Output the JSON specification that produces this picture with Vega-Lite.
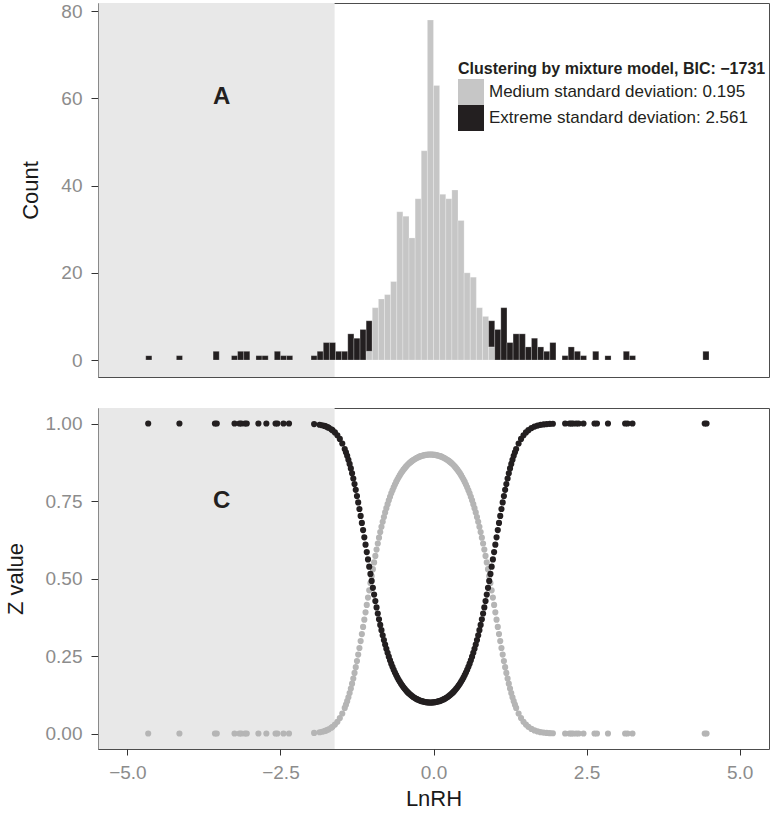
{
  "$schema": "https://vega.github.io/schema/vega-lite/v6.json",
  "padding": {"left": 3, "top": 1, "right": 6, "bottom": 5},
  "spacing": 29,
  "config": {
    "font": "Liberation Sans",
    "view": {"stroke": "#4d4d4d", "strokeWidth": 1},
    "axis": {"grid": false, "domain": false, "tickColor": "#333333", "tickSize": 7, "labelColor": "#8c8c8c", "labelFontSize": 19, "titleFontSize": 22, "titleFontWeight": "normal", "titleColor": "#1a1a1a", "labelPadding": 9}
  },
  "vconcat": [
    {
      "width": 671,
      "height": 374,
      "layer": [
        {
          "data": {"values": [{"x0": -5.47, "x1": -1.615}]},
          "mark": {"type": "rect", "color": "#e8e8e8"},
          "encoding": {
            "x": {"field": "x0", "type": "quantitative", "scale": {"domain": [-5.48, 5.48], "nice": false, "zero": false}, "axis": null},
            "x2": {"field": "x1"}
          }
        },
        {
          "data": {"values": [
            {"b":-4.7,"b2":-4.6,"lo":0,"hi":1,"g":"Extreme"},
            {"b":-4.2,"b2":-4.1,"lo":0,"hi":1,"g":"Extreme"},
            {"b":-3.6,"b2":-3.5,"lo":0,"hi":2,"g":"Extreme"},
            {"b":-3.3,"b2":-3.2,"lo":0,"hi":1,"g":"Extreme"},
            {"b":-3.2,"b2":-3.1,"lo":0,"hi":2,"g":"Extreme"},
            {"b":-3.1,"b2":-3.0,"lo":0,"hi":2,"g":"Extreme"},
            {"b":-2.9,"b2":-2.8,"lo":0,"hi":1,"g":"Extreme"},
            {"b":-2.8,"b2":-2.7,"lo":0,"hi":1,"g":"Extreme"},
            {"b":-2.6,"b2":-2.5,"lo":0,"hi":2,"g":"Extreme"},
            {"b":-2.5,"b2":-2.4,"lo":0,"hi":1,"g":"Extreme"},
            {"b":-2.4,"b2":-2.3,"lo":0,"hi":1,"g":"Extreme"},
            {"b":-2.0,"b2":-1.9,"lo":0,"hi":1,"g":"Extreme"},
            {"b":-1.9,"b2":-1.8,"lo":0,"hi":2,"g":"Extreme"},
            {"b":-1.8,"b2":-1.7,"lo":0,"hi":4,"g":"Extreme"},
            {"b":-1.7,"b2":-1.6,"lo":0,"hi":4,"g":"Extreme"},
            {"b":-1.6,"b2":-1.5,"lo":0,"hi":2,"g":"Extreme"},
            {"b":-1.5,"b2":-1.4,"lo":0,"hi":2,"g":"Extreme"},
            {"b":-1.4,"b2":-1.3,"lo":0,"hi":6,"g":"Extreme"},
            {"b":-1.3,"b2":-1.2,"lo":0,"hi":5,"g":"Extreme"},
            {"b":-1.2,"b2":-1.1,"lo":0,"hi":7,"g":"Extreme"},
            {"b":-1.1,"b2":-1.0,"lo":0,"hi":2,"g":"Medium"},
            {"b":-1.1,"b2":-1.0,"lo":2,"hi":9,"g":"Extreme"},
            {"b":-1.0,"b2":-0.9,"lo":0,"hi":12,"g":"Medium"},
            {"b":-0.9,"b2":-0.8,"lo":0,"hi":14,"g":"Medium"},
            {"b":-0.8,"b2":-0.7,"lo":0,"hi":15,"g":"Medium"},
            {"b":-0.7,"b2":-0.6,"lo":0,"hi":18,"g":"Medium"},
            {"b":-0.6,"b2":-0.5,"lo":0,"hi":34,"g":"Medium"},
            {"b":-0.5,"b2":-0.4,"lo":0,"hi":33,"g":"Medium"},
            {"b":-0.4,"b2":-0.3,"lo":0,"hi":28,"g":"Medium"},
            {"b":-0.3,"b2":-0.2,"lo":0,"hi":37,"g":"Medium"},
            {"b":-0.2,"b2":-0.1,"lo":0,"hi":48,"g":"Medium"},
            {"b":-0.1,"b2":0.0,"lo":0,"hi":78,"g":"Medium"},
            {"b":0.0,"b2":0.1,"lo":0,"hi":63,"g":"Medium"},
            {"b":0.1,"b2":0.2,"lo":0,"hi":38,"g":"Medium"},
            {"b":0.2,"b2":0.3,"lo":0,"hi":37,"g":"Medium"},
            {"b":0.3,"b2":0.4,"lo":0,"hi":39,"g":"Medium"},
            {"b":0.4,"b2":0.5,"lo":0,"hi":32,"g":"Medium"},
            {"b":0.5,"b2":0.6,"lo":0,"hi":20,"g":"Medium"},
            {"b":0.6,"b2":0.7,"lo":0,"hi":19,"g":"Medium"},
            {"b":0.7,"b2":0.8,"lo":0,"hi":12,"g":"Medium"},
            {"b":0.8,"b2":0.9,"lo":0,"hi":10,"g":"Medium"},
            {"b":0.9,"b2":1.0,"lo":0,"hi":3,"g":"Medium"},
            {"b":0.9,"b2":1.0,"lo":3,"hi":9,"g":"Extreme"},
            {"b":1.0,"b2":1.1,"lo":0,"hi":7,"g":"Extreme"},
            {"b":1.1,"b2":1.2,"lo":0,"hi":12,"g":"Extreme"},
            {"b":1.2,"b2":1.3,"lo":0,"hi":4,"g":"Extreme"},
            {"b":1.3,"b2":1.4,"lo":0,"hi":6,"g":"Extreme"},
            {"b":1.4,"b2":1.5,"lo":0,"hi":6,"g":"Extreme"},
            {"b":1.5,"b2":1.6,"lo":0,"hi":3,"g":"Extreme"},
            {"b":1.6,"b2":1.7,"lo":0,"hi":5,"g":"Extreme"},
            {"b":1.7,"b2":1.8,"lo":0,"hi":3,"g":"Extreme"},
            {"b":1.8,"b2":1.9,"lo":0,"hi":2,"g":"Extreme"},
            {"b":1.9,"b2":2.0,"lo":0,"hi":4,"g":"Extreme"},
            {"b":2.1,"b2":2.2,"lo":0,"hi":1,"g":"Extreme"},
            {"b":2.2,"b2":2.3,"lo":0,"hi":3,"g":"Extreme"},
            {"b":2.3,"b2":2.4,"lo":0,"hi":2,"g":"Extreme"},
            {"b":2.4,"b2":2.5,"lo":0,"hi":1,"g":"Extreme"},
            {"b":2.6,"b2":2.7,"lo":0,"hi":2,"g":"Extreme"},
            {"b":2.8,"b2":2.9,"lo":0,"hi":1,"g":"Extreme"},
            {"b":3.1,"b2":3.2,"lo":0,"hi":2,"g":"Extreme"},
            {"b":3.2,"b2":3.3,"lo":0,"hi":1,"g":"Extreme"},
            {"b":4.4,"b2":4.5,"lo":0,"hi":2,"g":"Extreme"}
          ]},
          "mark": {"type": "bar", "stroke": "#ffffff", "strokeWidth": 0.6, "strokeOpacity": 0.4},
          "encoding": {
            "x": {"field": "b", "type": "quantitative", "axis": null},
            "x2": {"field": "b2"},
            "y": {"field": "hi", "type": "quantitative", "scale": {"domain": [-3.9, 81.9], "nice": false, "zero": false}, "axis": {"values": [0, 20, 40, 60, 80], "title": "Count", "titlePadding": 18}},
            "y2": {"field": "lo"},
            "color": {
              "field": "g", "type": "nominal",
              "scale": {"domain": ["Medium", "Extreme"], "range": ["#c6c6c6", "#231f20"]},
              "legend": {
                "title": "Clustering by mixture model, BIC: −1731",
                "orient": "none", "legendX": 360, "legendY": 58, "padding": 0,
                "titleFontSize": 16, "titleFontWeight": "bold", "titleColor": "#231f20", "titlePadding": 2, "titleLimit": 600,
                "labelFontSize": 17, "labelColor": "#231f20", "labelOffset": 5, "labelLimit": 400,
                "symbolType": "square", "symbolSize": 676, "symbolStrokeWidth": 0, "rowPadding": 0,
                "labelExpr": "datum.label == 'Medium' ? 'Medium standard deviation: 0.195' : 'Extreme standard deviation: 2.561'"
              }
            }
          }
        },
        {
          "data": {"values": [{"x": -3.46, "y": 60.3, "t": "A"}]},
          "mark": {"type": "text", "fontSize": 24, "fontWeight": "bold", "color": "#231f20", "baseline": "middle", "align": "center"},
          "encoding": {
            "x": {"field": "x", "type": "quantitative", "axis": null},
            "y": {"field": "y", "type": "quantitative"},
            "text": {"field": "t"}
          }
        }
      ]
    },
    {
      "width": 671,
      "height": 341,
      "layer": [
        {
          "data": {"values": [{"x0": -5.47, "x1": -1.615}]},
          "mark": {"type": "rect", "color": "#e8e8e8"},
          "encoding": {
            "x": {"field": "x0", "type": "quantitative", "scale": {"domain": [-5.48, 5.48], "nice": false, "zero": false},
                  "axis": {"values": [-5, -2.5, 0, 2.5, 5], "format": ".1f", "title": "LnRH", "titlePadding": 6, "tickSize": 6, "labelPadding": 8}},
            "x2": {"field": "x1"}
          }
        },
        {
          "data": {"name": "pts"},
          "layer": [
            {
              "mark": {"type": "circle", "size": 38, "color": "#b5b5b5", "opacity": 1},
              "encoding": {
                "x": {"field": "x", "type": "quantitative"},
                "y": {"field": "m", "type": "quantitative", "scale": {"domain": [-0.05, 1.05], "nice": false, "zero": false},
                      "axis": {"values": [0, 0.25, 0.5, 0.75, 1], "format": ".2f", "title": "Z value", "titlePadding": 18}}
              }
            },
            {
              "mark": {"type": "circle", "size": 38, "color": "#231f20", "opacity": 1},
              "encoding": {
                "x": {"field": "x", "type": "quantitative"},
                "y": {"field": "e", "type": "quantitative"}
              }
            }
          ]
        },
        {
          "data": {"values": [{"x": -3.46, "y": 0.75, "t": "C"}]},
          "mark": {"type": "text", "fontSize": 24, "fontWeight": "bold", "color": "#231f20", "baseline": "middle", "align": "center"},
          "encoding": {
            "x": {"field": "x", "type": "quantitative"},
            "y": {"field": "y", "type": "quantitative"},
            "text": {"field": "t"}
          }
        }
      ]
    }
  ],
  "datasets": {
    "pts": [
      {"x":-4.66,"e":1,"m":0},{"x":-4.15,"e":1,"m":0},{"x":-3.57,"e":1,"m":0},{"x":-3.54,"e":1,"m":0},
      {"x":-3.25,"e":1,"m":0},{"x":-3.17,"e":1,"m":0},{"x":-3.14,"e":1,"m":0},{"x":-3.08,"e":1,"m":0},
      {"x":-3.05,"e":1,"m":0},{"x":-2.86,"e":1,"m":0},{"x":-2.73,"e":1,"m":0},{"x":-2.58,"e":1,"m":0},
      {"x":-2.55,"e":1,"m":0},{"x":-2.45,"e":1,"m":0},{"x":-2.36,"e":1,"m":0},
      {"x":-1.95,"e":0.9981,"m":0.0019},{"x":-1.86,"e":0.9959,"m":0.0041},{"x":-1.82,"e":0.9943,"m":0.0057},
      {"x":-1.78,"e":0.9921,"m":0.0079},{"x":-1.76,"e":0.9908,"m":0.0092},{"x":-1.73,"e":0.9883,"m":0.0117},
      {"x":-1.71,"e":0.9863,"m":0.0137},{"x":-1.67,"e":0.9815,"m":0.0185},
      {"x":-1.65,"e":0.9785,"m":0.0215},{"x":-1.61,"e":0.9713,"m":0.0287},{"x":-1.57,"e":0.962,"m":0.038},
      {"x":-1.53,"e":0.9503,"m":0.0497},{"x":-1.49,"e":0.9356,"m":0.0644},{"x":-1.45,"e":0.9175,"m":0.0825},
      {"x":-1.43,"e":0.9071,"m":0.0929},{"x":-1.41,"e":0.8956,"m":0.1044},{"x":-1.39,"e":0.8831,"m":0.1169},
      {"x":-1.37,"e":0.8696,"m":0.1304},{"x":-1.35,"e":0.855,"m":0.145},{"x":-1.33,"e":0.8393,"m":0.1607},
      {"x":-1.31,"e":0.8226,"m":0.1774},{"x":-1.29,"e":0.8047,"m":0.1953},{"x":-1.27,"e":0.7859,"m":0.2141},
      {"x":-1.25,"e":0.7661,"m":0.2339},{"x":-1.23,"e":0.7455,"m":0.2545},{"x":-1.21,"e":0.7241,"m":0.2759},
      {"x":-1.19,"e":0.702,"m":0.298},{"x":-1.17,"e":0.6793,"m":0.3207},{"x":-1.15,"e":0.6562,"m":0.3438},
      {"x":-1.13,"e":0.6327,"m":0.3673},{"x":-1.11,"e":0.6091,"m":0.3909},{"x":-1.09,"e":0.5853,"m":0.4147},
      {"x":-1.07,"e":0.5616,"m":0.4384},{"x":-1.05,"e":0.5381,"m":0.4619},{"x":-1.03,"e":0.5149,"m":0.4851},
      {"x":-1.01,"e":0.4922,"m":0.5078},{"x":-0.99,"e":0.4699,"m":0.5301},{"x":-0.97,"e":0.4482,"m":0.5518},
      {"x":-0.95,"e":0.4271,"m":0.5729},{"x":-0.93,"e":0.4068,"m":0.5932},{"x":-0.91,"e":0.3872,"m":0.6128},
      {"x":-0.89,"e":0.3684,"m":0.6316},{"x":-0.87,"e":0.3504,"m":0.6496},{"x":-0.85,"e":0.3333,"m":0.6667},
      {"x":-0.83,"e":0.317,"m":0.683},{"x":-0.81,"e":0.3016,"m":0.6984},{"x":-0.79,"e":0.2869,"m":0.7131},
      {"x":-0.77,"e":0.2731,"m":0.7269},{"x":-0.75,"e":0.2601,"m":0.7399},{"x":-0.73,"e":0.2478,"m":0.7522},
      {"x":-0.71,"e":0.2362,"m":0.7638},{"x":-0.69,"e":0.2254,"m":0.7746},{"x":-0.67,"e":0.2152,"m":0.7848},
      {"x":-0.65,"e":0.2057,"m":0.7943},{"x":-0.63,"e":0.1968,"m":0.8032},{"x":-0.61,"e":0.1884,"m":0.8116},
      {"x":-0.59,"e":0.1806,"m":0.8194},{"x":-0.57,"e":0.1734,"m":0.8266},{"x":-0.55,"e":0.1666,"m":0.8334},
      {"x":-0.53,"e":0.1603,"m":0.8397},{"x":-0.51,"e":0.1545,"m":0.8455},{"x":-0.49,"e":0.149,"m":0.851},
      {"x":-0.47,"e":0.144,"m":0.856},{"x":-0.45,"e":0.1393,"m":0.8607},{"x":-0.43,"e":0.1349,"m":0.8651},
      {"x":-0.41,"e":0.1309,"m":0.8691},{"x":-0.39,"e":0.1272,"m":0.8728},{"x":-0.37,"e":0.1238,"m":0.8762},
      {"x":-0.35,"e":0.1207,"m":0.8793},{"x":-0.33,"e":0.1178,"m":0.8822},{"x":-0.31,"e":0.1152,"m":0.8848},
      {"x":-0.29,"e":0.1129,"m":0.8871},{"x":-0.27,"e":0.1107,"m":0.8893},{"x":-0.25,"e":0.1088,"m":0.8912},
      {"x":-0.23,"e":0.1071,"m":0.8929},{"x":-0.21,"e":0.1055,"m":0.8945},{"x":-0.19,"e":0.1042,"m":0.8958},
      {"x":-0.17,"e":0.1031,"m":0.8969},{"x":-0.15,"e":0.1021,"m":0.8979},{"x":-0.13,"e":0.1014,"m":0.8986},
      {"x":-0.11,"e":0.1008,"m":0.8992},{"x":-0.09,"e":0.1003,"m":0.8997},{"x":-0.07,"e":0.1001,"m":0.8999},
      {"x":-0.05,"e":0.1,"m":0.9},
      {"x":-0.03,"e":0.1001,"m":0.8999},{"x":-0.01,"e":0.1003,"m":0.8997},{"x":0.01,"e":0.1008,"m":0.8992},
      {"x":0.03,"e":0.1014,"m":0.8986},{"x":0.05,"e":0.1021,"m":0.8979},{"x":0.07,"e":0.1031,"m":0.8969},
      {"x":0.09,"e":0.1042,"m":0.8958},{"x":0.11,"e":0.1055,"m":0.8945},{"x":0.13,"e":0.1071,"m":0.8929},
      {"x":0.15,"e":0.1088,"m":0.8912},{"x":0.17,"e":0.1107,"m":0.8893},{"x":0.19,"e":0.1129,"m":0.8871},
      {"x":0.21,"e":0.1152,"m":0.8848},{"x":0.23,"e":0.1178,"m":0.8822},{"x":0.25,"e":0.1207,"m":0.8793},
      {"x":0.27,"e":0.1238,"m":0.8762},{"x":0.29,"e":0.1272,"m":0.8728},{"x":0.31,"e":0.1309,"m":0.8691},
      {"x":0.33,"e":0.1349,"m":0.8651},{"x":0.35,"e":0.1393,"m":0.8607},{"x":0.37,"e":0.144,"m":0.856},
      {"x":0.39,"e":0.149,"m":0.851},{"x":0.41,"e":0.1545,"m":0.8455},{"x":0.43,"e":0.1603,"m":0.8397},
      {"x":0.45,"e":0.1666,"m":0.8334},{"x":0.47,"e":0.1734,"m":0.8266},{"x":0.49,"e":0.1806,"m":0.8194},
      {"x":0.51,"e":0.1884,"m":0.8116},{"x":0.53,"e":0.1968,"m":0.8032},{"x":0.55,"e":0.2057,"m":0.7943},
      {"x":0.57,"e":0.2152,"m":0.7848},{"x":0.59,"e":0.2254,"m":0.7746},{"x":0.61,"e":0.2362,"m":0.7638},
      {"x":0.63,"e":0.2478,"m":0.7522},{"x":0.65,"e":0.2601,"m":0.7399},{"x":0.67,"e":0.2731,"m":0.7269},
      {"x":0.69,"e":0.2869,"m":0.7131},{"x":0.71,"e":0.3016,"m":0.6984},{"x":0.73,"e":0.317,"m":0.683},
      {"x":0.75,"e":0.3333,"m":0.6667},{"x":0.77,"e":0.3504,"m":0.6496},{"x":0.79,"e":0.3684,"m":0.6316},
      {"x":0.81,"e":0.3872,"m":0.6128},{"x":0.83,"e":0.4068,"m":0.5932},{"x":0.85,"e":0.4271,"m":0.5729},
      {"x":0.87,"e":0.4482,"m":0.5518},{"x":0.89,"e":0.4699,"m":0.5301},{"x":0.91,"e":0.4922,"m":0.5078},
      {"x":0.93,"e":0.5149,"m":0.4851},{"x":0.95,"e":0.5381,"m":0.4619},{"x":0.97,"e":0.5616,"m":0.4384},
      {"x":0.99,"e":0.5853,"m":0.4147},{"x":1.01,"e":0.6091,"m":0.3909},{"x":1.03,"e":0.6327,"m":0.3673},
      {"x":1.05,"e":0.6562,"m":0.3438},{"x":1.07,"e":0.6793,"m":0.3207},{"x":1.09,"e":0.702,"m":0.298},
      {"x":1.11,"e":0.7241,"m":0.2759},{"x":1.13,"e":0.7455,"m":0.2545},{"x":1.15,"e":0.7661,"m":0.2339},
      {"x":1.17,"e":0.7859,"m":0.2141},{"x":1.19,"e":0.8047,"m":0.1953},{"x":1.21,"e":0.8226,"m":0.1774},
      {"x":1.23,"e":0.8393,"m":0.1607},{"x":1.25,"e":0.855,"m":0.145},{"x":1.27,"e":0.8696,"m":0.1304},
      {"x":1.29,"e":0.8831,"m":0.1169},{"x":1.31,"e":0.8956,"m":0.1044},{"x":1.33,"e":0.9071,"m":0.0929},
      {"x":1.35,"e":0.9175,"m":0.0825},{"x":1.39,"e":0.9356,"m":0.0644},{"x":1.43,"e":0.9503,"m":0.0497},
      {"x":1.47,"e":0.962,"m":0.038},{"x":1.51,"e":0.9713,"m":0.0287},{"x":1.55,"e":0.9785,"m":0.0215},
      {"x":1.6,"e":0.9852,"m":0.0148},{"x":1.65,"e":0.99,"m":0.01},{"x":1.7,"e":0.9933,"m":0.0067},
      {"x":1.75,"e":0.9956,"m":0.0044},{"x":1.8,"e":0.9971,"m":0.0029},{"x":1.85,"e":0.9981,"m":0.0019},
      {"x":1.9,"e":0.9988,"m":0.0012},{"x":1.95,"e":0.9993,"m":0.0007},
      {"x":2.15,"e":1,"m":0},{"x":2.22,"e":1,"m":0},{"x":2.25,"e":1,"m":0},{"x":2.28,"e":1,"m":0},
      {"x":2.33,"e":1,"m":0},{"x":2.37,"e":1,"m":0},{"x":2.45,"e":1,"m":0},{"x":2.63,"e":1,"m":0},
      {"x":2.67,"e":1,"m":0},{"x":2.85,"e":1,"m":0},{"x":3.13,"e":1,"m":0},{"x":3.17,"e":1,"m":0},
      {"x":3.25,"e":1,"m":0},{"x":4.43,"e":1,"m":0},{"x":4.46,"e":1,"m":0}
    ]
  }
}
